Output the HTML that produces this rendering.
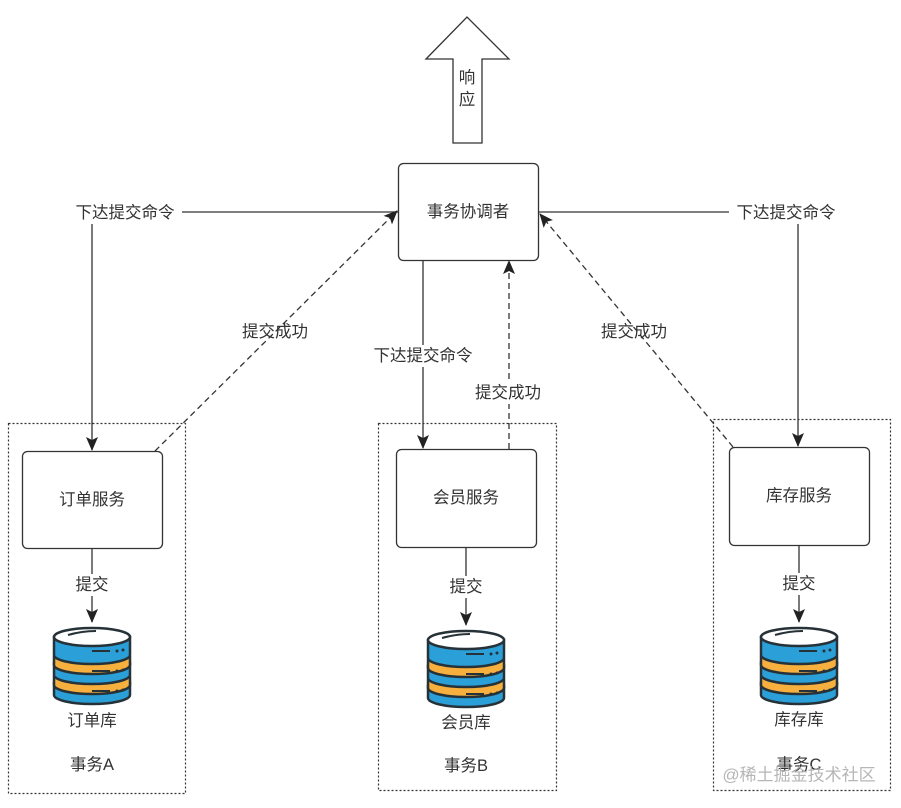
<!DOCTYPE html>
<html><head><meta charset="utf-8"><style>
html,body{margin:0;padding:0;background:#fff;}
svg{display:block;font-family:"Liberation Sans","Noto Sans CJK SC",sans-serif;}
text{font-size:16.5px;fill:#333;text-anchor:middle;dominant-baseline:central;}
</style></head><body>
<svg width="901" height="808" viewBox="0 0 901 808" xmlns="http://www.w3.org/2000/svg">
<defs>
<marker id="ah" markerWidth="14" markerHeight="14" refX="13" refY="7" orient="auto" markerUnits="userSpaceOnUse" viewBox="0 0 14 14">
<path d="M0,1 L14,7 L0,13 L3,7 Z" fill="#222"/></marker>
<g id="db">
<path d="M-38,56 L-38,68 A38,9 0 0 0 38,68 L38,56 Z" fill="#2a9fd8" stroke="#263238" stroke-width="2.5"/>
<path d="M-38,50 L-38,58 A38,9 0 0 0 38,58 L38,50 Z" fill="#f7b03e" stroke="#263238" stroke-width="2.5"/>
<path d="M-38,36 L-38,48 A38,9 0 0 0 38,48 L38,36 Z" fill="#2a9fd8" stroke="#263238" stroke-width="2.5"/>
<path d="M-38,30 L-38,38 A38,9 0 0 0 38,38 L38,30 Z" fill="#f7b03e" stroke="#263238" stroke-width="2.5"/>
<path d="M-38,10 L-38,28 A38,9 0 0 0 38,28 L38,10 Z" fill="#2a9fd8" stroke="#263238" stroke-width="2.5"/>
<ellipse cx="0" cy="10" rx="38" ry="9" fill="#fff" stroke="#263238" stroke-width="2.5"/>
<path d="M-24,8 Q-10,4 4,4" stroke="#263238" stroke-width="2" fill="none"/>
<g stroke="#263238" stroke-width="2"><line x1="0" y1="24" x2="18" y2="24"/><line x1="0" y1="44" x2="18" y2="44"/><line x1="0" y1="64" x2="18" y2="64"/></g>
<g fill="#263238"><circle cx="25" cy="24" r="1.5"/><circle cx="31" cy="23" r="1.5"/><circle cx="25" cy="44" r="1.5"/><circle cx="31" cy="43" r="1.5"/><circle cx="25" cy="64" r="1.5"/><circle cx="31" cy="63" r="1.5"/></g>
</g>
</defs>
<g fill="none" stroke="#333" stroke-width="1.2" stroke-dasharray="2,2">
<rect x="8.5" y="423.5" width="177" height="370"/>
<rect x="378.5" y="423.5" width="178" height="367"/>
<rect x="713.5" y="419.5" width="177" height="371"/>
</g>
<path d="M426,59 L467,17 L509,59 L482,59 L482,143 L453,143 L453,59 Z" fill="#fff" stroke="#333" stroke-width="1.3"/>
<text x="467" y="78">响</text><text x="467" y="100">应</text>
<g fill="#fff" stroke="#333" stroke-width="1.3">
<rect x="398.5" y="163.5" width="140" height="97" rx="5"/>
<rect x="22.5" y="451.5" width="140" height="97" rx="5"/>
<rect x="396.5" y="449.5" width="140" height="98" rx="5"/>
<rect x="729.5" y="447.5" width="140" height="98" rx="5"/>
</g>
<text x="468" y="212">事务协调者</text>
<text x="92" y="500">订单服务</text>
<text x="466" y="498">会员服务</text>
<text x="799" y="496">库存服务</text>
<g fill="none" stroke="#333" stroke-width="1.3">
<path d="M398,212 L92,212 L92,450" marker-end="url(#ah)"/>
<path d="M538,212 L798,212 L798,446" marker-end="url(#ah)"/>
<path d="M423,261 L423,448" marker-end="url(#ah)"/>
<path d="M92,549 L92,622" marker-end="url(#ah)"/>
<path d="M466,548 L466,625" marker-end="url(#ah)"/>
<path d="M799,546 L799,622" marker-end="url(#ah)"/>
</g>
<g fill="none" stroke="#333" stroke-width="1.3" stroke-dasharray="6,4">
<path d="M155,451 L397,211" marker-end="url(#ah)"/>
<path d="M733,447 L540,214" marker-end="url(#ah)"/>
<path d="M509,449 L509,261" marker-end="url(#ah)"/>
</g>
<g>
<rect x="68" y="202" width="114" height="22" fill="#fff"/><text x="125" y="213">下达提交命令</text>
<rect x="729" y="202" width="114" height="22" fill="#fff"/><text x="786" y="213">下达提交命令</text>
<rect x="366" y="345" width="114" height="22" fill="#fff"/><text x="423" y="356">下达提交命令</text>
<text x="275" y="332">提交成功</text>
<text x="634" y="332">提交成功</text>
<rect x="470" y="382" width="76" height="22" fill="#fff"/><text x="508" y="393">提交成功</text>
<rect x="70" y="574" width="44" height="22" fill="#fff"/><text x="92" y="585">提交</text>
<rect x="444" y="576" width="44" height="22" fill="#fff"/><text x="466" y="587">提交</text>
<rect x="777" y="573" width="44" height="22" fill="#fff"/><text x="799" y="584">提交</text>
</g>
<use href="#db" x="92" y="627"/>
<use href="#db" x="466" y="630"/>
<use href="#db" x="799" y="627"/>
<text x="92" y="721">订单库</text>
<text x="466" y="723">会员库</text>
<text x="799" y="720">库存库</text>
<text x="92" y="765">事务A</text>
<text x="466" y="766">事务B</text>
<text x="799" y="765">事务C</text>
<text x="799" y="775" style="font-size:17px;fill:#aaa;opacity:0.85">@稀土掘金技术社区</text>
</svg>
</body></html>
